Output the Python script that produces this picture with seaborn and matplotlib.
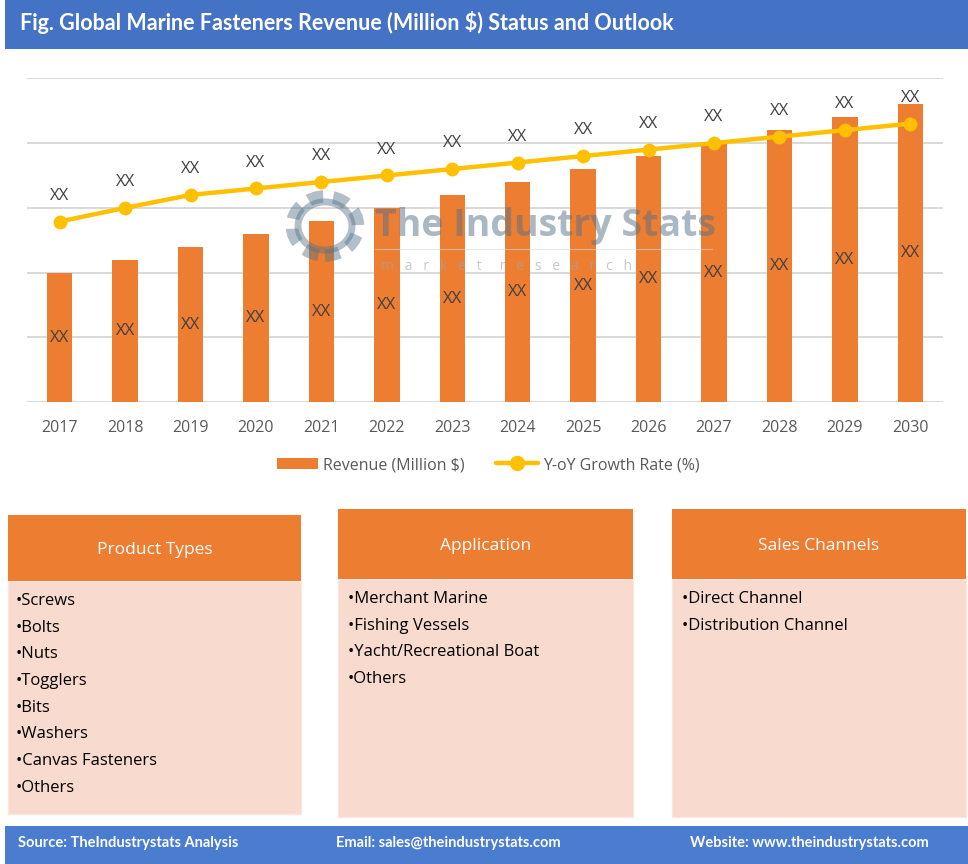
import matplotlib
matplotlib.use('Agg')
import matplotlib.pyplot as plt
import seaborn as sns
import pandas as pd
import numpy as np
from matplotlib.patches import Rectangle, Patch, Circle
from matplotlib.lines import Line2D

# ---------------- data ----------------
years = ['2017', '2018', '2019', '2020', '2021', '2022', '2023',
         '2024', '2025', '2026', '2027', '2028', '2029', '2030']
revenue = [2.0, 2.2, 2.4, 2.6, 2.8, 3.0, 3.2, 3.4, 3.6, 3.8, 4.0, 4.2, 4.4, 4.6]
growth = [2.79, 3.0, 3.2, 3.3, 3.4, 3.5, 3.6, 3.7, 3.8, 3.9, 4.0, 4.1, 4.2, 4.3]
bar_labels = ['XX'] * 14
line_labels = ['XX'] * 14
series_names = ['Revenue (Million $)', 'Y-oY Growth Rate (%)']

title = 'Fig. Global Marine Fasteners Revenue (Million $) Status and Outlook'
box_headers = ['Product Types', 'Application', 'Sales Channels']
product_types = ['Screws', 'Bolts', 'Nuts', 'Togglers', 'Bits', 'Washers',
                 'Canvas Fasteners', 'Others']
applications = ['Merchant Marine', 'Fishing Vessels', 'Yacht/Recreational Boat', 'Others']
sales_channels = ['Direct Channel', 'Distribution Channel']
footer_texts = ['Source: TheIndustrystats Analysis',
                'Email: sales@theindustrystats.com',
                'Website: www.theindustrystats.com']

# ---------------- style ----------------
sns.set_theme(style='white')
plt.rcParams['font.family'] = ['Open Sans', 'DejaVu Sans']

BAR_C = '#ED7D31'
LINE_C = '#FFC000'
GRID_C = '#D9D9D9'
TXT_C = '#404040'
TICK_C = '#595959'

W, H = 968, 864
fig = plt.figure(figsize=(W / 100, H / 100), dpi=100)
fig.patch.set_facecolor('white')


def fx(px):
    return px / W


def fy(py):
    return 1 - py / H


# ---------------- title bar ----------------
fig.patches.append(Rectangle((fx(5), fy(49)), (W - 5) / W, 49 / H,
                             transform=fig.transFigure, facecolor='#4472C4',
                             edgecolor='none', zorder=0))
fig.text(fx(20), fy(23), title, color='white', fontsize=15.5, fontweight='bold',
         family=['Lato', 'DejaVu Sans'], va='center', ha='left')

# ---------------- chart ----------------
ax = fig.add_axes([fx(27), fy(402.3), 916 / W, (402.3 - 78.3) / H])
df = pd.DataFrame({'Year': years, 'Revenue': revenue, 'Growth': growth})
sns.barplot(data=df, x='Year', y='Revenue', color=BAR_C, saturation=1,
            width=0.39, linewidth=0, ax=ax, zorder=2)
ax.set_xlim(-0.5, len(years) - 0.5)
ax.set_ylim(0, 5)
ax.set_yticks(np.arange(0, 6, 1))
ax.yaxis.grid(True, color=GRID_C, lw=1.4)
ax.xaxis.grid(False)
ax.set_axisbelow(True)
for s in ax.spines.values():
    s.set_visible(False)
ax.set_xlabel('')
ax.set_ylabel('')

for i, (v, lab) in enumerate(zip(revenue, bar_labels)):
    ax.text(i, v / 2, lab, ha='center', va='center', fontsize=12, color=TXT_C, zorder=5)

ax2 = ax.twinx()
sns.lineplot(x=np.arange(len(years)), y=growth, color=LINE_C, lw=3.2,
             marker='o', markersize=10, markeredgewidth=0, ax=ax2, zorder=6)
ax2.set_xlim(-0.5, len(years) - 0.5)
ax2.set_ylim(0, 5)
ax2.set_yticks([])
ax2.set_ylabel('')
for s in ax2.spines.values():
    s.set_visible(False)
ax2.grid(False)
for i, (g, lab) in enumerate(zip(growth, line_labels)):
    ax2.annotate(lab, (i, g), xytext=(0, 18.5), textcoords='offset points',
                 ha='center', va='center', fontsize=12, color=TXT_C, zorder=7)

# tick styling after twinx (twinx re-enables left ticks)
ax.tick_params(axis='y', left=False, right=False, labelleft=False, length=0)
ax.tick_params(axis='x', bottom=False, labelsize=11.5, labelcolor=TICK_C, pad=6.5)
ax2.tick_params(axis='both', left=False, right=False, labelright=False, length=0)

# ---------------- watermark ----------------
wm_c = '#557387'
fig.text(fx(375), fy(226), 'The Industry Stats', fontsize=27, fontweight='bold',
         family=['Open Sans', 'DejaVu Sans'], color=wm_c, alpha=0.5,
         ha='left', va='center', zorder=4)
fig.text(fx(381), fy(267), 'm   a   r   k   e   t     r   e   s   e   a   r   c   h',
         fontsize=10, color='#9aa8b2', alpha=0.6, ha='left', va='center', zorder=4)
fig.lines.append(Line2D([fx(375), fx(712)], [fy(249), fy(249)],
                        transform=fig.transFigure, color='#d5dde2', lw=0.8, alpha=0.6, zorder=4))
ring_center = (fx(325), fy(226))
fig.patches.append(Circle(ring_center, 33 / W, transform=fig.transFigure, fill=False,
                          edgecolor=wm_c, lw=9, ls=(0, (1.2, 0.8)), alpha=0.45, zorder=4))
fig.patches.append(Circle(ring_center, 27 / W, transform=fig.transFigure, fill=False,
                          edgecolor=wm_c, lw=5, alpha=0.45, zorder=4))

# ---------------- legend ----------------
handles = [Patch(facecolor=BAR_C, edgecolor='none'),
           Line2D([], [], color=LINE_C, lw=3.2, marker='o', markersize=10)]
fig.legend(handles, series_names, loc='center', bbox_to_anchor=(fx(488), fy(465)),
           ncol=2, frameon=False, fontsize=11.5, handlelength=2.6, handletextpad=0.3,
           columnspacing=2.0, labelcolor=TICK_C)

# ---------------- category boxes ----------------
boxes = [
    (8, 301, 515, 581, 814, box_headers[0], product_types, 16, 601),
    (338, 633, 509, 579, 817, box_headers[1], applications, 348, 599),
    (672, 966, 509, 579, 817, box_headers[2], sales_channels, 682, 599),
]
for x0, x1, yt, yh, yb, head, items, tx, ty in boxes:
    fig.patches.append(Rectangle((fx(x0), fy(yb)), (x1 - x0) / W, (yb - yh) / H,
                                 transform=fig.transFigure, facecolor='#F8DACF',
                                 edgecolor='#FBE7DF', lw=1, zorder=1))
    fig.patches.append(Rectangle((fx(x0), fy(yh)), (x1 - x0) / W, (yh - yt) / H,
                                 transform=fig.transFigure, facecolor=BAR_C,
                                 edgecolor='none', zorder=1))
    fig.text(fx((x0 + x1) / 2), fy((yt + yh) / 2 + 2), head, color='white',
             fontsize=12.5, ha='center', va='center', zorder=2)
    for k, it in enumerate(items):
        fig.text(fx(tx), fy(ty + k * 26.7), '\u2022' + it, color='black',
                 fontsize=12, ha='left', va='center', zorder=2)

# ---------------- footer ----------------
fig.patches.append(Rectangle((fx(5), 0), (W - 5) / W, (H - 826) / H,
                             transform=fig.transFigure, facecolor='#4A7CCF',
                             edgecolor='none', zorder=0))
for xpos, txt in zip([18, 336, 690], footer_texts):
    fig.text(fx(xpos), fy(843), txt, color='white', fontsize=10.5, fontweight='bold',
             family=['Lato', 'DejaVu Sans'], ha='left', va='center')

fig.savefig('out.png', dpi=100)
